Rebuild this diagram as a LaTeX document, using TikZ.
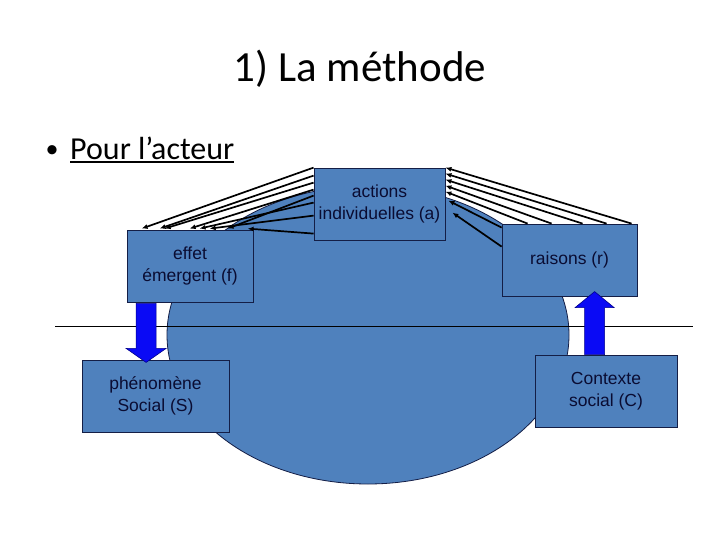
\documentclass[tikz,border=0pt]{standalone}
\usepackage{fontspec}
\setmainfont{Carlito}
\newfontfamily\arialf{Liberation Sans}
\usetikzlibrary{arrows.meta,calc,shapes.geometric}
\definecolor{boxblue}{RGB}{79,129,189}
\definecolor{edgec}{RGB}{20,30,70}
\definecolor{txtc}{RGB}{10,12,50}
\definecolor{arrblue}{RGB}{10,10,245}
\definecolor{arredge}{RGB}{0,0,140}
\newcommand\myul[1]{\setbox0\hbox{#1}\rlap{\rule[-3.5pt]{\wd0}{2pt}}\box0}
\begin{document}
\begin{tikzpicture}[x=1pt,y=-1pt,
 box/.style={draw=edgec,line width=0.8pt,fill=boxblue,minimum height=72pt,inner sep=0pt,align=center,font=\arialf\fontsize{17.5}{21.5}\selectfont,text=txtc},
 conn/.style={line width=1.7pt,-{Latex[length=6pt,width=5pt]}},
 fat/.style={fill=arrblue,draw=arredge,line width=0.6pt}]
\useasboundingbox (0,0) rectangle (720,540);
\fill[white] (0,0) rectangle (720,540);
\node[anchor=base,font=\fontsize{43}{50}\selectfont] (title) at (360,82) {1) La méthode};
\node[anchor=base,font=\fontsize{26}{30}\selectfont,inner sep=0pt] (bul) at (52,158) {•};
\node[anchor=base west,font=\fontsize{32}{38}\selectfont,inner sep=0pt] (pour) at (70,160) {\myul{Pour l’acteur}};
% ellipse
\node[ellipse,draw=edgec,line width=0.8pt,fill=boxblue,minimum width=402pt,minimum height=298pt,inner sep=0pt] (ell) at (368,335) {};
% horizontal line
\coordinate (hl) at (55,326);
\coordinate (hr) at (693,326);
\draw[line width=1pt] (hl) -- (hr);
% boxes
\node[box,minimum width=131pt] (a) at (379.5,204) {actions\\individuelles (a)};
\node[box,minimum width=126pt] (f) at (190,266) {effet\\émergent (f)};
\node[box,minimum width=135pt] (r) at (569.5,260) {raisons (r)};
\node[box,minimum width=147pt] (S) at (155.5,396) {phénomène\\Social (S)};
\node[box,minimum width=142pt] (C) at (606,391) {Contexte\\social (C)};
% fat arrows
\coordinate (d0) at ($(f.south west)+(19.5,1)$);
\draw[fat] (d0) ++(-10,0) -- ++(20,0) -- ++(0,45) -- ++(10,0) -- ++(-20,14) -- ++(-20,-14) -- ++(10,0) -- cycle;
\coordinate (u0) at ($(C.north west)+(60,0)$);
\draw[fat] (u0) ++(-10,0) -- ++(20,0) -- ++(0,-47) -- ++(9.5,0) -- ++(-19.5,-16) -- ++(-19.5,16) -- ++(9.5,0) -- cycle;
% connectors left
\foreach \s/\e in {0/15, 8/33, 15/38, 22/63, 28/101, 35/73, 48/83, 66/121}
  \draw[conn] ($(a.north west)+(0,\s)$) -- ($(f.north west)+(\e,-1)$);
% connectors right
\foreach \s/\e in {130/0, 105/6, 81/12, 50/18, 26/24}
  \draw[conn] ($(r.north west)+(\s,0)$) -- ($(a.north east)+(0,\e)$);
\draw[conn] ($(r.north west)+(0,4)$) -- ($(a.north east)+(3,33)$);
\draw[conn] ($(r.north west)+(0,23)$) -- ($(a.north east)+(7,45)$);
\end{tikzpicture}
\end{document}
